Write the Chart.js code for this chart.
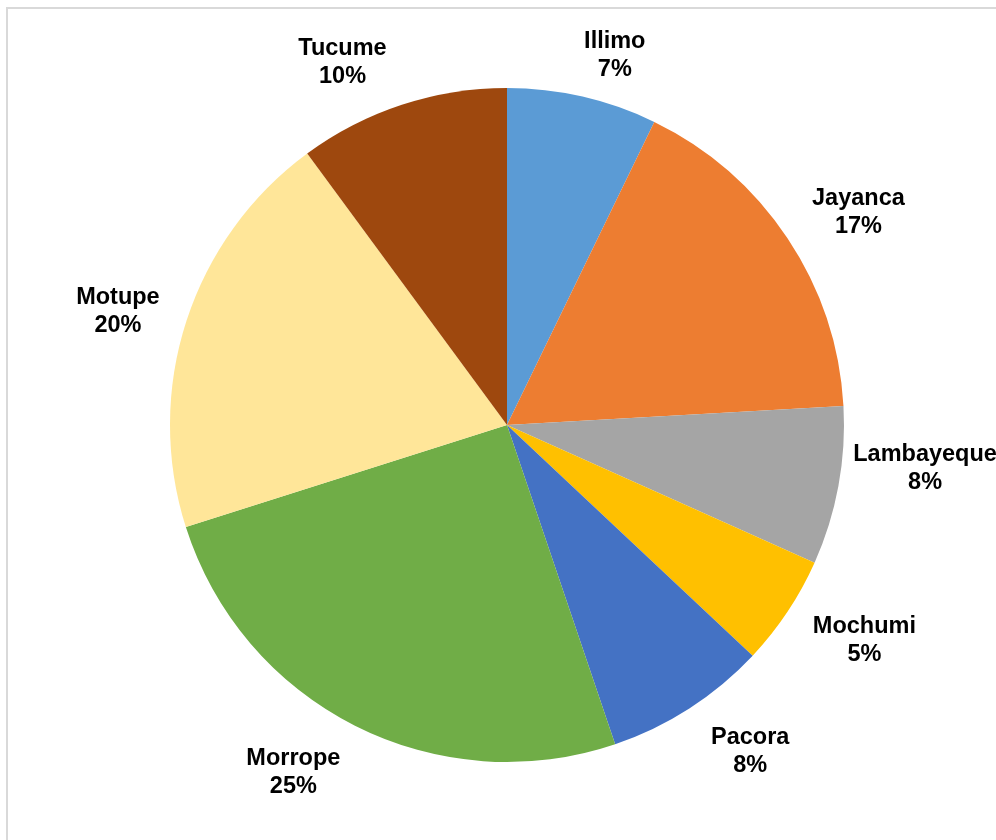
<!DOCTYPE html>
<html>
<head>
<meta charset="utf-8">
<script src="https://cdn.jsdelivr.net/npm/chart.js@4"></script>
<style>
html,body{margin:0;padding:0;background:#fff;overflow:hidden;}
#frame{position:absolute;left:6px;top:7px;width:1010px;height:860px;border:2px solid #d9d9d9;box-sizing:border-box;}
#wrap{position:absolute;left:0;top:0;width:996px;height:840px;}
</style>
</head>
<body>
<div id="frame"></div>
<div id="wrap"><canvas id="c" width="996" height="840"></canvas></div>
<script>
const categories = ["Illimo","Jayanca","Lambayeque","Mochumi","Pacora","Morrope","Motupe","Tucume"];
const values = [7.2, 16.9, 7.6, 5.3, 7.8, 25.3, 19.8, 10.1];
const percentLabels = ["7%","17%","8%","5%","8%","25%","20%","10%"];
const colors = ["#5B9BD5","#ED7D31","#A5A5A5","#FFC000","#4472C4","#70AD47","#FFE699","#9E480E"];
const labelOffsets = [50, 72, 82, 78, 70, 70, 70, 62];
const labelNudgeX = [21, 11, 6, 12, 23, -30, -2, -40];
const labelNudgeY = [8, 14, -32, -15, -16, -16, 12, 17];

const labelPlugin = {
  id: 'outLabels',
  afterDatasetsDraw(chart) {
    const ctx = chart.ctx;
    const meta = chart.getDatasetMeta(0);
    ctx.save();
    ctx.font = 'bold 23.5px "Liberation Sans", Arial, sans-serif';
    ctx.fillStyle = '#000';
    ctx.textAlign = 'center';
    ctx.textBaseline = 'middle';
    meta.data.forEach((arc, i) => {
      const p = arc.getProps(['x','y','startAngle','endAngle','outerRadius'], true);
      const mid = (p.startAngle + p.endAngle) / 2;
      const r = p.outerRadius + labelOffsets[i];
      const x = p.x + Math.cos(mid) * r + labelNudgeX[i];
      const y = p.y + Math.sin(mid) * r + labelNudgeY[i];
      ctx.fillText(categories[i], x, y - 14);
      ctx.fillText(percentLabels[i], x, y + 14);
    });
    ctx.restore();
  }
};

new Chart(document.getElementById('c'), {
  type: 'pie',
  data: {
    labels: categories,
    datasets: [{
      data: values,
      backgroundColor: colors,
      borderWidth: 0
    }]
  },
  options: {
    responsive: false,
    animation: false,
    layout: { padding: { top: 88, bottom: 78, left: 170, right: 152 } },
    plugins: { legend: { display: false }, tooltip: { enabled: false } }
  },
  plugins: [labelPlugin]
});
</script>
</body>
</html>
